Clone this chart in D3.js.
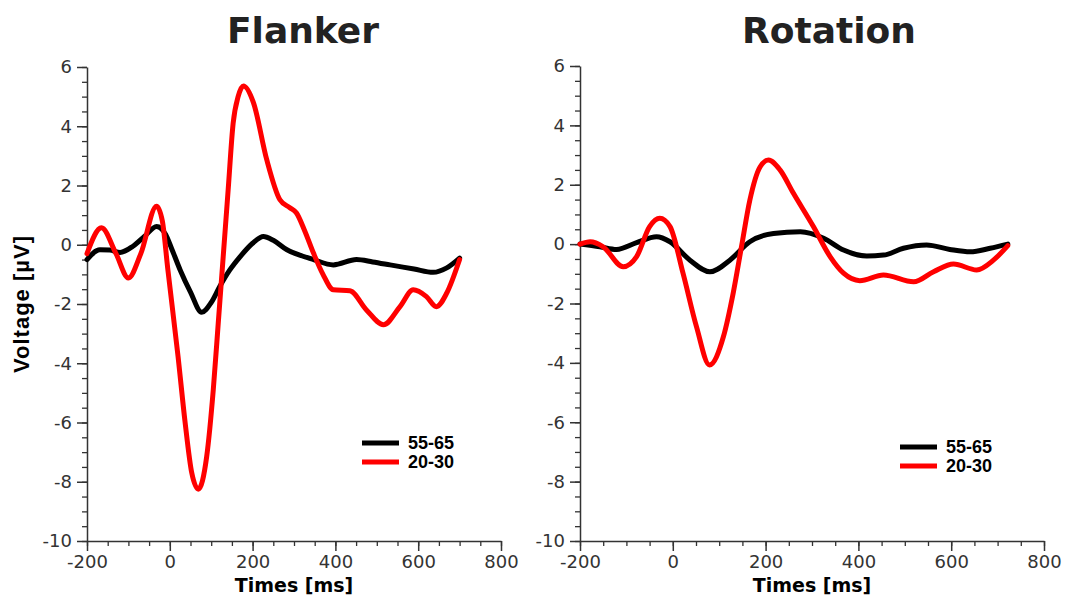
<!DOCTYPE html>
<html>
<head>
<meta charset="utf-8">
<script src="https://cdn.jsdelivr.net/npm/d3@7"></script>
<style>
  body { margin: 0; background: #fff; }
  svg { display: block; }
</style>
</head>
<body>
<script>
// ERP waveforms, time in ms, amplitude in µV
const flankerOld = [
  [-200, -0.5], [-169, -0.17], [-145, -0.18], [-120, -0.26], [-89, -0.05], [-60, 0.3],
  [-32, 0.62], [-10, 0.35], [5, -0.15], [25, -0.85], [50, -1.6], [77, -2.28], [100, -1.95],
  [121, -1.4], [145, -0.85], [170, -0.4], [200, 0.05], [226, 0.28], [250, 0.15], [283, -0.17],
  [320, -0.38], [347, -0.5], [395, -0.68], [451, -0.5], [490, -0.58], [532, -0.68],
  [590, -0.82], [636, -0.93], [669, -0.78], [700, -0.45]
];
const flankerYoung = [
  [-200, -0.3], [-165, 0.57], [-130, -0.3], [-100, -1.12], [-70, -0.3], [-32, 1.3],
  [-18, 0.8], [-5, -0.8], [20, -3.78], [37, -6.0], [53, -7.7], [69, -8.25], [89, -7.16],
  [105, -4.9], [117, -2.65], [129, -0.4], [141, 1.86], [153, 4.1], [165, 5.0], [178, 5.36],
  [202, 4.8], [234, 2.88], [266, 1.52], [290, 1.25], [306, 1.07], [325, 0.5], [347, -0.28],
  [370, -1.0], [395, -1.52], [435, -1.55], [475, -2.2], [516, -2.7], [556, -2.09],
  [588, -1.52], [620, -1.75], [644, -2.09], [669, -1.63], [700, -0.5]
];
const rotationOld = [
  [-200, 0.0], [-157, -0.09], [-121, -0.18], [-78, 0.05], [-35, 0.25], [-6, 0.08],
  [37, -0.54], [80, -0.93], [123, -0.54], [166, 0.08], [217, 0.36], [275, 0.42],
  [325, 0.2], [368, -0.2], [418, -0.4], [454, -0.37], [497, -0.14], [547, -0.03],
  [597, -0.18], [641, -0.26], [684, -0.14], [722, 0.0]
];
const rotationYoung = [
  [-200, 0.0], [-178, 0.08], [-150, -0.09], [-107, -0.76], [-78, -0.42], [-50, 0.59],
  [-28, 0.87], [-6, 0.59], [22, -0.98], [51, -2.78], [79, -4.07], [109, -3.12],
  [130, -1.66], [148, -0.09], [166, 1.48], [188, 2.6], [206, 2.83], [231, 2.5],
  [260, 1.71], [303, 0.59], [339, -0.42], [368, -0.98], [403, -1.23], [454, -1.04],
  [519, -1.27], [562, -0.93], [605, -0.67], [655, -0.87], [691, -0.54], [722, -0.05]
];

const titles = ['Flanker', 'Rotation'];
const groups = ['55-65', '20-30'];
const groupColors = ['#000000', '#ff0000'];
const xTicks = [-200, 0, 200, 400, 600, 800];
const yTicks = [-10, -8, -6, -4, -2, 0, 2, 4, 6];

const width = 1078;
const height = 597;

const svg = d3.select('body')
  .append('svg')
    .attr('width', width)
    .attr('height', height);

const panels = [
  { title: titles[0], series: [flankerOld, flankerYoung], x0: 87, x1: 501, top: 67, bottom: 541,
    titleX: 303, legendX: 362, legendY: 443 },
  { title: titles[1], series: [rotationOld, rotationYoung], x0: 580, x1: 1044, top: 66, bottom: 541,
    titleX: 829, legendX: 900, legendY: 447 }
];

const plainNum = d => String(d);  // hyphen minus, like the original

panels.forEach((p) => {
  const x = d3.scaleLinear().domain([-200, 800]).range([p.x0, p.x1]);
  const y = d3.scaleLinear().domain([-10, 6]).range([p.bottom, p.top]);

  // minor ticks first, then major ticks with labels
  svg.append('g')
    .attr('transform', `translate(0,${p.bottom})`)
    .call(d3.axisBottom(x).tickValues(d3.range(-200, 801, 50)).tickSize(5).tickFormat(''))
    .call(g => g.select('.domain').remove())
    .selectAll('line').attr('stroke', '#333').attr('stroke-width', 1.3);

  svg.append('g')
    .attr('transform', `translate(${p.x0},0)`)
    .call(d3.axisLeft(y).tickValues(d3.range(-10, 6.01, 0.5)).tickSize(5).tickFormat(''))
    .call(g => g.select('.domain').remove())
    .selectAll('line').attr('stroke', '#333').attr('stroke-width', 1.3);

  const xAxis = svg.append('g')
    .attr('transform', `translate(0,${p.bottom})`)
    .call(d3.axisBottom(x).tickValues(xTicks).tickFormat(plainNum).tickSize(10).tickSizeOuter(0).tickPadding(4));

  const yAxis = svg.append('g')
    .attr('transform', `translate(${p.x0},0)`)
    .call(d3.axisLeft(y).tickValues(yTicks).tickFormat(plainNum).tickSize(10).tickSizeOuter(0).tickPadding(5));

  [xAxis, yAxis].forEach(a => {
    a.select('.domain').attr('stroke', '#333').attr('stroke-width', 1.5);
    a.selectAll('line').attr('stroke', '#333').attr('stroke-width', 1.5);
    a.selectAll('text')
      .attr('font-family', 'DejaVu Sans, sans-serif')
      .attr('font-size', 18)
      .attr('fill', '#333');
  });

  const line = d3.line()
    .x(d => x(d[0]))
    .y(d => y(d[1]))
    .curve(d3.curveMonotoneX);

  p.series.forEach((s, i) => {
    svg.append('path')
      .datum(s)
      .attr('d', line)
      .attr('fill', 'none')
      .attr('stroke', groupColors[i])
      .attr('stroke-width', 5)
      .attr('stroke-linejoin', 'round')
      .attr('stroke-linecap', 'round');
  });

  svg.append('text')
    .text(p.title)
    .attr('x', p.titleX)
    .attr('y', 43)
    .attr('text-anchor', 'middle')
    .attr('font-family', 'DejaVu Sans, sans-serif')
    .attr('font-weight', 'bold')
    .attr('font-size', 36)
    .attr('fill', '#222');

  svg.append('text')
    .text('Times [ms]')
    .attr('x', (p.x0 + p.x1) / 2)
    .attr('y', 592)
    .attr('text-anchor', 'middle')
    .attr('font-family', 'DejaVu Sans, sans-serif')
    .attr('font-weight', 'bold')
    .attr('font-size', 19)
    .attr('fill', '#000');

  groups.forEach((gname, i) => {
    const ly = p.legendY + i * 19;
    svg.append('line')
      .attr('x1', p.legendX).attr('x2', p.legendX + 37)
      .attr('y1', ly).attr('y2', ly)
      .attr('stroke', groupColors[i])
      .attr('stroke-width', 5);
    svg.append('text')
      .text(gname)
      .attr('x', p.legendX + 46)
      .attr('y', ly + 6)
      .attr('font-family', 'Liberation Sans, Arial, sans-serif')
      .attr('font-weight', 'bold')
      .attr('font-size', 18)
      .attr('fill', '#000');
  });
});

svg.append('text')
  .text('Voltage [µV]')
  .attr('transform', 'translate(29,304) rotate(-90)')
  .attr('text-anchor', 'middle')
  .attr('font-family', 'Liberation Sans, Arial, sans-serif')
  .attr('font-weight', 'bold')
  .attr('font-size', 22)
  .attr('letter-spacing', 1)
  .attr('fill', '#000');
</script>
</body>
</html>
